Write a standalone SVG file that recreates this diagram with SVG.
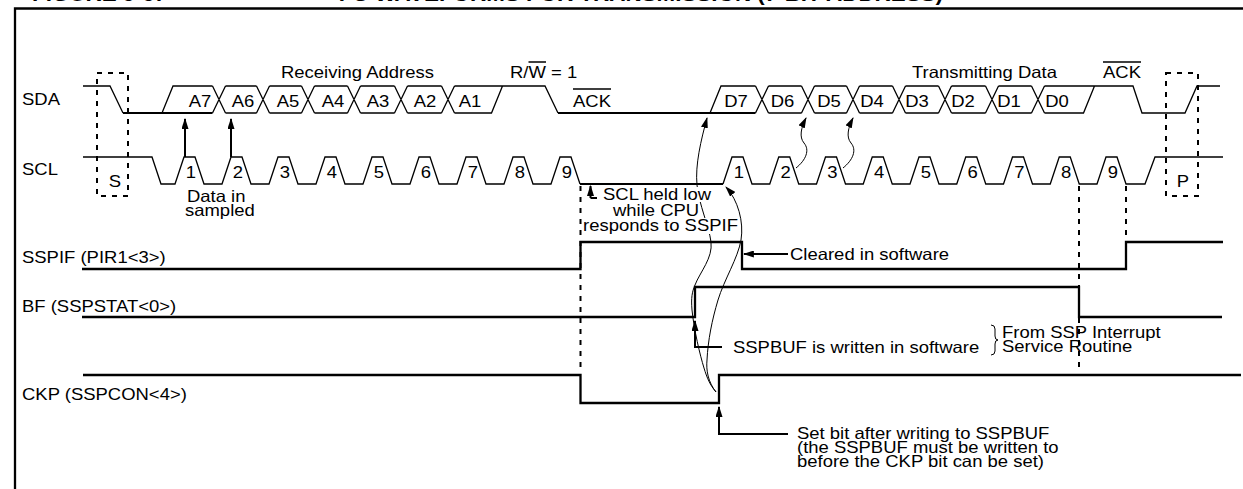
<svg xmlns="http://www.w3.org/2000/svg" width="1243" height="489" viewBox="0 0 1243 489">
<style>
.w{fill:none;stroke:#000;stroke-width:1.3}
.wt{fill:none;stroke:#000;stroke-width:2}
.sig{fill:none;stroke:#000;stroke-width:2.3}
.dash{fill:none;stroke:#000;stroke-width:2;stroke-dasharray:5 6}
.thin{fill:none;stroke:#000;stroke-width:1}
.arr{fill:none;stroke:#000;stroke-width:2;marker-end:url(#ah)}
.carr{fill:none;stroke:#000;stroke-width:1;marker-end:url(#ah)}
text{font-family:"Liberation Sans",Arial,sans-serif;font-size:16.5px;fill:#000}
.c{text-anchor:middle}
.title{font-weight:bold;font-size:20px}
</style>
<defs>
<marker id="ah" viewBox="0 0 10 10" refX="9" refY="5" markerWidth="11" markerHeight="7" markerUnits="userSpaceOnUse" orient="auto" preserveAspectRatio="none"><path d="M0,0 L10,5 L0,10 z" fill="#000"/></marker>
</defs>
<rect width="1243" height="489" fill="#fff"/>
<g id="frame"><path class="sig" d="M15,489 V8.5 H1243"/></g>

<g id="sda">
<path class="w" d="M83,86 H110 L123,113"/>
<path class="wt" d="M123,113 H212.5"/>
<path class="w" d="M162,113 L173,86 H212.5
M212.5,86 L225.5,113 M212.5,113 L225.5,86 M225.5,86 H256.5 M225.5,113 H256.5
M256.5,86 L269.5,113 M256.5,113 L269.5,86 M269.5,86 H301.5 M269.5,113 H301.5
M301.5,86 L314.5,113 M301.5,113 L314.5,86 M314.5,86 H347.5 M314.5,113 H347.5
M347.5,86 L360.5,113 M347.5,113 L360.5,86 M360.5,86 H394.5 M360.5,113 H394.5
M394.5,86 L407.5,113 M394.5,113 L407.5,86 M407.5,86 H441.5 M407.5,113 H441.5
M441.5,86 L454.5,113 M441.5,113 L454.5,86
M454.5,86 H545 L558,113 M454.5,113 H491.5 L502.5,86"/>
<path class="wt" d="M558,113 H755.5"/>
<path class="w" d="M710,113 L721,86 H755.5
M755.5,86 L768.5,113 M755.5,113 L768.5,86 M768.5,86 H801.5 M768.5,113 H801.5
M801.5,86 L814.5,113 M801.5,113 L814.5,86 M814.5,86 H846.5 M814.5,113 H846.5
M846.5,86 L859.5,113 M846.5,113 L859.5,86 M859.5,86 H892.5 M859.5,113 H892.5
M892.5,86 L905.5,113 M892.5,113 L905.5,86 M905.5,86 H938.5 M905.5,113 H938.5
M938.5,86 L951.5,113 M938.5,113 L951.5,86 M951.5,86 H985.5 M951.5,113 H985.5
M985.5,86 L998.5,113 M985.5,113 L998.5,86 M998.5,86 H1031.5 M998.5,113 H1031.5
M1031.5,86 L1044.5,113 M1031.5,113 L1044.5,86
M1044.5,86 H1133 L1142,113 H1185 L1197,86 H1220 M1044.5,113 H1083.5 L1094.5,86"/>
</g>

<g id="scl">
<path class="w" d="M83,157 H152 L161,184 H175 L184,157 H195 L204,184 H222 L231,157 H242 L251,184 H269 L278,157 H289 L298,184 H316 L325,157 H336 L345,184 H363 L372,157 H383 L392,184 H410 L419,157 H430 L439,184 H457 L466,157 H477 L486,184 H504 L513,157 H524 L533,184 H551 L560,157 H571 L580,184"/>
<path class="wt" d="M580,184 H723"/>
<path class="w" d="M723,184 L732,157 H743 L752,184 H769.75 L778.75,157 H789.75 L798.75,184 H816.5 L825.5,157 H836.5 L845.5,184 H863.25 L872.25,157 H883.25 L892.25,184 H910 L919,157 H930 L939,184 H956.75 L965.75,157 H976.75 L985.75,184 H1003.5 L1012.5,157 H1023.5 L1032.5,184 H1050.25 L1059.25,157 H1070.25 L1079.25,184 H1097 L1106,157 H1117 L1126,184 H1145 L1155,157 H1223"/>
</g>

<g id="start-box"><rect class="dash" x="97" y="73" width="31" height="123"/></g>
<g id="stop-box"><rect class="dash" x="1166" y="73" width="32" height="123"/></g>

<g id="guides">
<path class="dash" d="M580.5,186 V372 M1079,186 V372 M1126,186 V242"/>
</g>

<g id="sspif"><path class="sig" d="M82,269 H580.5 V242 H742 V269 H1126 V242 H1223"/></g>
<g id="bf"><path class="sig" d="M82,317 H695 V287 H1079 V317 H1222"/></g>
<g id="ckp"><path class="sig" d="M83,375 H580.5 V403 H719 V375 H1241"/></g>

<g id="connectors">
<path class="arr" d="M185,157 V119"/>
<path class="arr" d="M231,157 V119"/>
<path class="wt" d="M597,198 H590.5" />
<path class="arr" d="M590.5,198 V186"/>
<path class="arr" d="M788,254 H744"/>
<path class="arr" d="M722,347 H695 V321"/>
<path class="arr" d="M788,434 H719 V407"/>
<path class="carr" d="M716,392 C710,385 707,378 704,368 C700,355 694,330 692,310 C691,298 692,292 695,285 C700,272 713,258 711,242 C709,226 699,205 697,185 C695,165 701,140 707,118"/>
<path class="carr" d="M716,392 C708,382 706,370 707,360 C708,340 712,320 718,300 C724,280 738,258 741,240 C744,222 738,200 726,187"/>
<path class="carr" d="M796,168 C806,160 810,150 804,143 C799,137 801,128 806,118"/>
<path class="carr" d="M843,168 C853,160 857,150 851,143 C846,137 848,128 853,118"/>
<path class="thin" d="M991,325 Q995,325 995,329 V336 Q995,340 998,340 Q995,340 995,344 V351 Q995,355 991,355"/>
</g>

<g id="masks" fill="#fff">
<rect x="600" y="187" width="114" height="15"/>
<rect x="582" y="218" width="156" height="16"/>
</g>

<g id="overbars">
<path class="w" d="M528.5,62 H546 M573,89 H611 M1103,62 H1141"/>
</g>

<g id="labels" transform="scale(1.12,1)">
<text class="title" x="28.57" y="1">FIGURE 9-9:</text>
<text class="title" x="841.96" y="1" text-anchor="end">I²C WAVEFORMS FOR TRANSMISSION (7-BIT ADDRESS)</text>
<text x="19.64" y="105">SDA</text>
<text x="19.64" y="175">SCL</text>
<text x="19.64" y="263">SSPIF (PIR1&lt;3&gt;)</text>
<text x="19.64" y="312">BF (SSPSTAT&lt;0&gt;)</text>
<text x="19.64" y="400">CKP (SSPCON&lt;4&gt;)</text>
<text x="250.89" y="78">Receiving Address</text>
<text x="455.36" y="78">R/W = 1</text>
<text x="511.61" y="107">ACK</text>
<text x="814.29" y="78">Transmitting Data</text>
<text x="984.82" y="78">ACK</text>
<text class="c" x="178.57" y="107">A7</text>
<text class="c" x="216.96" y="107">A6</text>
<text class="c" x="257.14" y="107">A5</text>
<text class="c" x="297.32" y="107">A4</text>
<text class="c" x="337.5" y="107">A3</text>
<text class="c" x="379.46" y="107">A2</text>
<text class="c" x="419.64" y="107">A1</text>
<text class="c" x="657.14" y="107">D7</text>
<text class="c" x="698.66" y="107">D6</text>
<text class="c" x="740.18" y="107">D5</text>
<text class="c" x="778.57" y="107">D4</text>
<text class="c" x="818.75" y="107">D3</text>
<text class="c" x="859.82" y="107">D2</text>
<text class="c" x="900.89" y="107">D1</text>
<text class="c" x="943.75" y="107">D0</text>
<text class="c" x="170.54" y="178">1</text>
<text class="c" x="212.5" y="178">2</text>
<text class="c" x="254.46" y="178">3</text>
<text class="c" x="296.43" y="178">4</text>
<text class="c" x="338.39" y="178">5</text>
<text class="c" x="380.36" y="178">6</text>
<text class="c" x="422.32" y="178">7</text>
<text class="c" x="464.29" y="178">8</text>
<text class="c" x="506.25" y="178">9</text>
<text class="c" x="659.82" y="178">1</text>
<text class="c" x="701.56" y="178">2</text>
<text class="c" x="743.3" y="178">3</text>
<text class="c" x="785.04" y="178">4</text>
<text class="c" x="826.79" y="178">5</text>
<text class="c" x="868.53" y="178">6</text>
<text class="c" x="910.27" y="178">7</text>
<text class="c" x="952.01" y="178">8</text>
<text class="c" x="993.75" y="178">9</text>
<text class="c" x="102.68" y="187">S</text>
<text class="c" x="1056.25" y="187">P</text>
<text x="166.96" y="202">Data in</text>
<text x="165.18" y="216">sampled</text>
<text x="538.39" y="200">SCL held low</text>
<text x="547.32" y="216">while CPU</text>
<text x="520.54" y="231">responds to SSPIF</text>
<text x="705.36" y="260">Cleared in software</text>
<text x="654.46" y="353">SSPBUF is written in software</text>
<text x="894.64" y="338">From SSP Interrupt</text>
<text x="894.64" y="352">Service Routine</text>
<text x="711.61" y="439">Set bit after writing to SSPBUF</text>
<text x="711.61" y="453">(the SSPBUF must be written to</text>
<text x="711.61" y="467">before the CKP bit can be set)</text>
</g>
</svg>
